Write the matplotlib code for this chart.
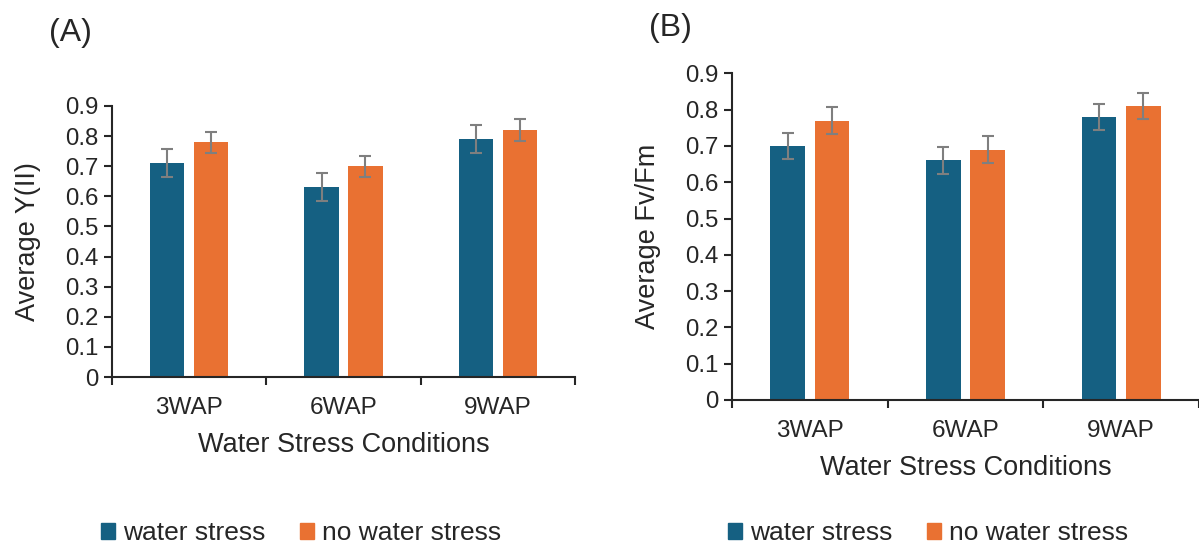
import matplotlib.pyplot as plt
from matplotlib.patches import Patch
import numpy as np

plt.rcParams['font.family'] = ['Liberation Sans', 'DejaVu Sans']

conditions = ['3WAP', '6WAP', '9WAP']

# (A) Average Y(II)
yii_stress = [0.71, 0.63, 0.79]
yii_stress_err = [0.046, 0.047, 0.047]
yii_nostress = [0.78, 0.70, 0.82]
yii_nostress_err = [0.035, 0.035, 0.036]

# (B) Average Fv/Fm
fvfm_stress = [0.70, 0.66, 0.78]
fvfm_stress_err = [0.035, 0.036, 0.036]
fvfm_nostress = [0.77, 0.69, 0.81]
fvfm_nostress_err = [0.036, 0.036, 0.037]

blue = '#156082'
orange = '#E97132'
errc = '#7F7F7F'
txt = '#262626'

fig = plt.figure(figsize=(11.99, 5.46), dpi=100)
ax_a = fig.add_axes([0.0934, 0.3095, 0.3862, 0.4964])
ax_b = fig.add_axes([0.6105, 0.2674, 0.3895, 0.5983])


def draw(ax, ws, ws_err, nws, nws_err, ylabel):
    x = np.arange(len(conditions))
    w = 0.222
    off = 0.142
    ekw = dict(ecolor=errc, elinewidth=1.5, capsize=4.5, capthick=1.5)
    ax.bar(x - off, ws, w, color=blue, yerr=ws_err, error_kw=ekw, zorder=2)
    ax.bar(x + off, nws, w, color=orange, yerr=nws_err, error_kw=ekw, zorder=2)
    ax.set_xlim(-0.5, 2.5)
    ax.set_ylim(0, 0.9)
    ax.set_yticks(np.arange(0, 0.91, 0.1))
    ax.set_yticklabels(['0'] + ['%.1f' % v for v in np.arange(0.1, 0.91, 0.1)])
    ax.set_xticks(x)
    ax.set_xticklabels(conditions)
    ax.set_xticks([-0.5, 0.5, 1.5, 2.5], minor=True)
    ax.tick_params(axis='x', which='major', length=0, labelsize=17.5, colors=txt, pad=14.5)
    ax.tick_params(axis='x', which='minor', length=6, width=1.5, color=txt, direction='out')
    ax.tick_params(axis='y', length=6, width=1.5, color=txt, labelsize=17.3, labelcolor=txt, pad=4)
    for s in ['top', 'right']:
        ax.spines[s].set_visible(False)
    for s in ['left', 'bottom']:
        ax.spines[s].set_linewidth(1.5)
        ax.spines[s].set_color(txt)
    ax.set_xlabel('Water Stress Conditions', fontsize=19.5, color=txt, labelpad=9.5)
    ax.set_ylabel(ylabel, fontsize=19.5, color=txt, labelpad=17)


draw(ax_a, yii_stress, yii_stress_err, yii_nostress, yii_nostress_err, 'Average Y(II)')
draw(ax_b, fvfm_stress, fvfm_stress_err, fvfm_nostress, fvfm_nostress_err, 'Average Fv/Fm')

fig.text(0.041, 0.94, '(A)', fontsize=23, color=txt, va='center')
fig.text(0.541, 0.948, '(B)', fontsize=23, color=txt, va='center')

handles = [Patch(color=blue), Patch(color=orange)]
labels = ['water stress', 'no water stress']
for xa in [0.084, 0.607]:
    fig.legend(handles, labels, loc='center left', bbox_to_anchor=(xa, 0.024),
               ncol=2, frameon=False, fontsize=19, handlelength=0.55,
               handleheight=0.55, handletextpad=0.3, columnspacing=1.3,
               labelcolor=txt, borderaxespad=0, borderpad=0)

fig.savefig('out.png', dpi=100)
